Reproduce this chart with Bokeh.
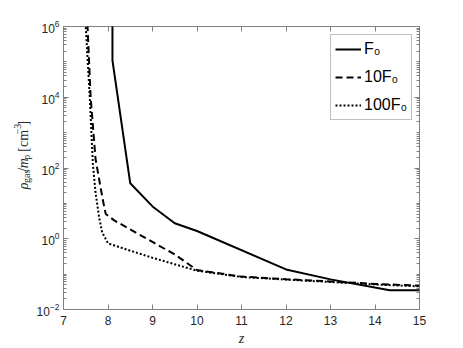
import math
from bokeh.plotting import figure
from bokeh.layouts import row
from bokeh.models import (FixedTicker, LinearAxis, LogAxis, Legend,
                          LegendItem, CustomJSTickFormatter)
from bokeh.core.properties import value
from bokeh.embed import file_html
from bokeh.resources import INLINE

# ---- data ----
z_F0 = [8.1, 8.1, 8.5, 9.0, 9.5, 10.0, 12.0, 13.0, 14.33, 15.0]
rho_F0 = [1e7, 1.1e5, 37, 8.2, 2.75, 1.66, 0.136, 0.071, 0.035, 0.035]

z_10F0 = [7.52, 7.54, 7.61, 7.72, 7.84, 7.91, 7.95, 8.14, 9.0, 9.5, 10.0,
          11.0, 12.0, 13.0, 14.0, 15.0]
rho_10F0 = [1e7, 1e6, 1e4, 182, 25, 8.5, 5.0, 3.3, 0.81, 0.36, 0.13,
            0.085, 0.072, 0.062, 0.053, 0.047]

z_100F0 = [7.48, 7.5, 7.59, 7.66, 7.72, 7.8, 7.87, 8.0, 8.5, 9.0, 9.5, 10.0,
           11.0, 12.0, 13.0, 14.0, 15.0]
rho_100F0 = [1e7, 1e6, 1e4, 130, 20, 4.0, 1.5, 0.74, 0.46, 0.29, 0.19, 0.125,
             0.083, 0.07, 0.06, 0.051, 0.045]

series_labels = ["F\u2080", "10F\u2080", "100F\u2080"]
x_ticks = [7, 8, 9, 10, 11, 12, 13, 14, 15]
y_major = [1e-2, 1e0, 1e2, 1e4, 1e6]
y_minor = [k * 10.0 ** e for e in range(-2, 6) for k in range(2, 11)]

# y label pieces: text, font size, style, baseline shift, advance
ylabel_pieces = [
    ("\u03c1", 14, "italic", 0, 7.6),
    ("gas", 10, "normal", 3, 13.8),
    ("/", 14, "normal", 0, 4.4),
    ("m", 14, "italic", 0, 10.4),
    ("p", 10, "normal", 3, 5.6),
    ("\u00a0[cm", 14, "normal", 0, 25.6),
    ("\u22123", 10, "normal", -6, 11.0),
    ("]", 14, "normal", 0, 5.0),
]

AX = "#808080"
TXT = "#262626"
H = 348
STRIP = 33

p = figure(width=463 - STRIP, height=H, x_range=(7, 15), y_range=(1e-2, 1e6),
           y_axis_type="log", output_backend="svg", toolbar_location=None,
           min_border_left=61 - STRIP, min_border_right=44, min_border_top=26,
           min_border_bottom=39)
p.xgrid.visible = False
p.ygrid.visible = False
p.outline_line_color = AX
p.outline_line_width = 1


def style(ax, minor=True):
    ax.axis_line_color = None
    ax.major_tick_in = 5
    ax.major_tick_out = 0
    ax.minor_tick_in = 3
    ax.minor_tick_out = 0
    ax.major_tick_line_color = AX
    ax.minor_tick_line_color = AX if minor else None
    ax.major_label_text_font = "Liberation Sans"
    ax.major_label_text_font_size = "12px"
    ax.major_label_text_color = TXT


xax = p.xaxis[0]
xax.ticker = FixedTicker(ticks=x_ticks, minor_ticks=[])
style(xax, minor=False)
xax.major_label_standoff = 6
xax.axis_label = "z"
xax.axis_label_text_font = "Liberation Serif"
xax.axis_label_text_font_style = "italic"
xax.axis_label_text_font_size = "14px"
xax.axis_label_text_color = TXT
xax.axis_label_standoff = 3

yax = p.yaxis[0]
yax.ticker = FixedTicker(ticks=y_major, minor_ticks=y_minor)
style(yax)
yax.major_label_standoff = 4

blank = CustomJSTickFormatter(code="return ''")
top = LinearAxis(ticker=FixedTicker(ticks=x_ticks, minor_ticks=[]), formatter=blank)
style(top, minor=False)
top.major_label_text_font_size = "1px"
p.add_layout(top, "above")
right = LogAxis(ticker=FixedTicker(ticks=y_major, minor_ticks=y_minor), formatter=blank)
style(right)
right.major_label_text_font_size = "1px"
p.add_layout(right, "right")

r1 = p.line(z_F0, rho_F0, line_color="black", line_width=2)
r2 = p.line(z_10F0, rho_10F0, line_color="black", line_width=2, line_dash="7 4")
r3 = p.line(z_100F0, rho_100F0, line_color="black", line_width=2, line_dash="2 2")

legend = Legend(items=[LegendItem(label=series_labels[0], renderers=[r1]),
                       LegendItem(label=series_labels[1], renderers=[r2]),
                       LegendItem(label=series_labels[2], renderers=[r3])],
                location=(267, 189), margin=0, padding=4, spacing=8,
                glyph_width=26, glyph_height=20, label_height=20,
                label_standoff=3, border_line_color=AX, border_line_width=1,
                background_fill_color="white", background_fill_alpha=1,
                label_text_font="Liberation Sans", label_text_font_size="16px",
                label_text_color="black")
p.add_layout(legend)

# ---- narrow strip holding the composed y-axis label ----
lab = figure(width=STRIP, height=H, x_range=(0, STRIP), y_range=(0, H),
             output_backend="svg", toolbar_location=None,
             x_axis_location=None, y_axis_location=None,
             min_border=0, min_border_left=0, min_border_right=0,
             min_border_top=0, min_border_bottom=0)
lab.outline_line_color = None
lab.xgrid.visible = False
lab.ygrid.visible = False

base_x = 23.0
ypos = H - 200.0
for txt, fs, st, dx, w in ylabel_pieces:
    lab.text(x=[base_x + dx], y=[ypos], text=[txt], angle=math.pi / 2,
             text_font=value("Liberation Serif"), text_font_style=st,
             text_font_size=f"{fs}px", text_color=TXT, text_align="left",
             text_baseline="alphabetic")
    ypos += w

layout = row(lab, p, spacing=0)
open("out.html", "w").write(file_html(layout, INLINE))
